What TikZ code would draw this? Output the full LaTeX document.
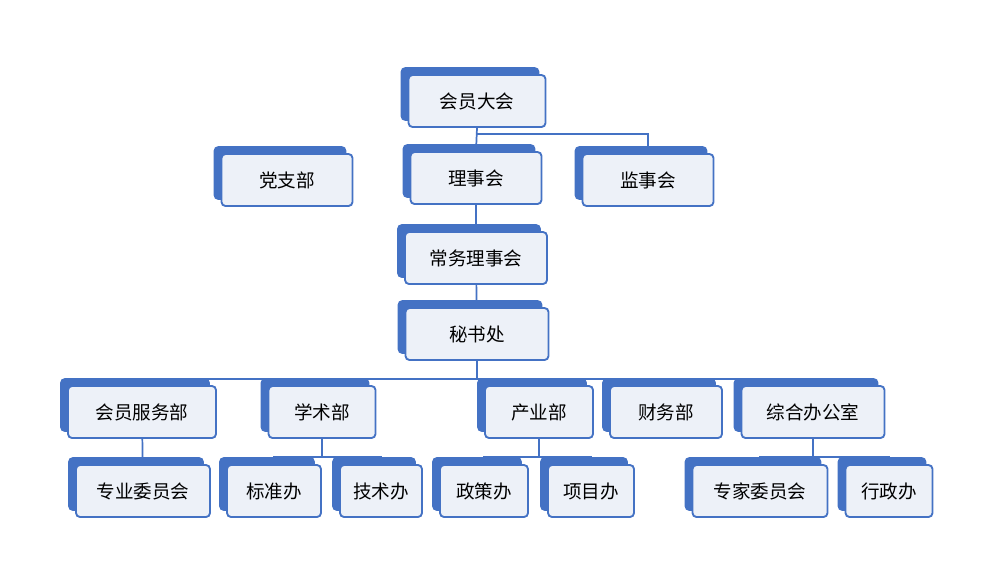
\documentclass[tikz,border=0pt]{standalone}
\usepackage{fontspec}
\newfontfamily\cjk{Noto Sans CJK SC}
\definecolor{boxblue}{HTML}{4472C4}
\definecolor{boxfill}{HTML}{EDF1F8}
\tikzset{
  % front card with the blue card behind it
  org/.style={draw=boxblue, line width=1.4pt, rounded corners=3pt, fill=boxfill,
    minimum height=52*0.0265cm, minimum width=#1*0.0265cm, font=\cjk\fontsize{14}{16}\selectfont,
    preaction={fill=boxblue, draw=boxblue, transform canvas={shift={(-7*0.0265cm,7*0.0265cm)}}}},
  link/.style={draw=boxblue, line width=1.3pt},
}
\begin{document}
\begin{tikzpicture}[x=0.0265cm,y=-0.0265cm]
\useasboundingbox (0,0) rectangle (1000,566);
% top levels
\node[org=137] (hy) at (477,101) {会员大会};
\node[org=131] (dz) at (287,180) {党支部};
\node[org=131] (ls) at (476,178) {理事会};
\node[org=131] (js) at (648,180) {监事会};
\node[org=142] (cw) at (476,258) {常务理事会};
\node[org=143] (ms) at (477,334) {秘书处};
% departments
\node[org=148] (hf) at (142,412) {会员服务部};
\node[org=107] (xs) at (322,412) {学术部};
\node[org=108] (cy) at (539,412) {产业部};
\node[org=112] (cwb) at (666,412) {财务部};
\node[org=143] (zh) at (813,412) {综合办公室};
% offices
\node[org=134] (zy) at (143,491) {专业委员会};
\node[org=94] (bz) at (274,491) {标准办};
\node[org=82] (js2) at (381,491) {技术办};
\node[org=88] (zc) at (484,491) {政策办};
\node[org=86] (xm) at (591,491) {项目办};
\node[org=135] (zj) at (760,491) {专家委员会};
\node[org=87] (xz) at (889,491) {行政办};
% connectors
\draw[link] (hy.south) -- (ls.north);
\draw[link] (hy.south) ++(0,6) -| (js.north);
\draw[link] (ls) -- (cw);
\draw[link] (cw) -- (ms);
\foreach \d in {hf,xs,cy,cwb,zh}
  \draw[link] (ms.south) -- ++(0,18) -| (\d.north);
\draw[link] (hf) -- (zy);
\foreach \p/\c in {xs/bz,xs/js2,cy/zc,cy/xm,zh/zj,zh/xz}
  \draw[link] (\p.south) -- ++(0,18) -| (\c.north);
\end{tikzpicture}
\end{document}
